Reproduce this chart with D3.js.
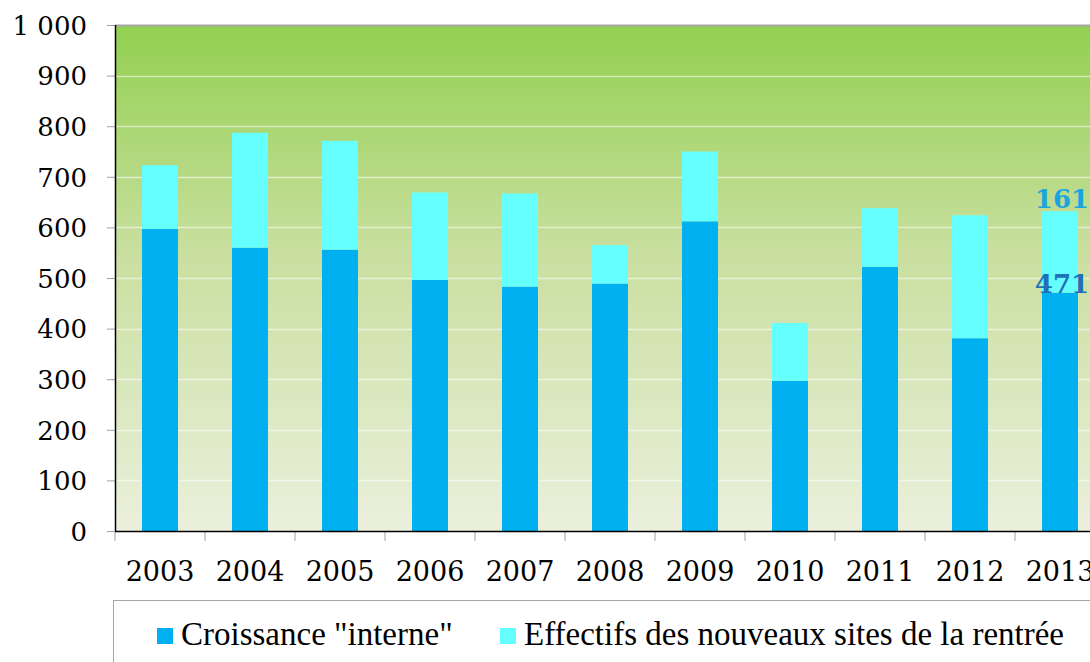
<!DOCTYPE html>
<html>
<head>
<meta charset="utf-8">
<script src="https://cdn.jsdelivr.net/npm/d3@7"></script>
<style>
body { margin: 0; background: #fff; }
svg { display: block; }
</style>
</head>
<body>
<div class="chart"></div>
<script>
var svg_width = 1090;
var svg_height = 662;

// Data
var years = ["2003", "2004", "2005", "2006", "2007", "2008", "2009", "2010", "2011", "2012", "2013"];
var interne = [597, 560, 556, 496, 483, 489, 612, 297, 522, 381, 471];
var nouveaux = [126, 227, 215, 173, 184, 76, 138, 114, 116, 243, 161];
var yTicks = [0, 100, 200, 300, 400, 500, 600, 700, 800, 900, 1000];
var seriesNames = ["Croissance \"interne\"", "Effectifs des nouveaux sites de la rentrée"];
var colors = ["#00b0f0", "#66ffff"];

var margin = { top: 25, left: 115, bottom: 131 };
var plotRight = 1105;
var plotBottom = svg_height - margin.bottom;

var svg = d3.select(".chart")
  .append("svg")
  .attr("width", svg_width)
  .attr("height", svg_height);

// Background gradient
var defs = svg.append("defs");
var grad = defs.append("linearGradient")
  .attr("id", "bg").attr("x1", 0).attr("y1", 0).attr("x2", 0).attr("y2", 1);
grad.append("stop").attr("offset", "0%").attr("stop-color", "#92d050");
grad.append("stop").attr("offset", "45%").attr("stop-color", "#c9df9f");
grad.append("stop").attr("offset", "100%").attr("stop-color", "#ebf0dc");

var xScale = d3.scaleBand()
  .domain(years)
  .range([margin.left, plotRight])
  .paddingInner(0.6)
  .paddingOuter(0.3);

var yScale = d3.scaleLinear()
  .domain([0, 1000])
  .range([plotBottom, margin.top]);

svg.append("rect")
  .attr("x", margin.left)
  .attr("y", margin.top)
  .attr("width", plotRight - margin.left)
  .attr("height", plotBottom - margin.top)
  .attr("fill", "url(#bg)");

// Gridlines
svg.append("g")
  .selectAll("line")
  .data(yTicks.slice(1, -1))
  .enter()
  .append("line")
  .attr("x1", margin.left)
  .attr("x2", plotRight)
  .attr("y1", d => Math.round(yScale(d)) + 0.5)
  .attr("y2", d => Math.round(yScale(d)) + 0.5)
  .attr("stroke", "#ffffff")
  .attr("stroke-opacity", 0.55)
  .attr("stroke-width", 1.5);

// top border
svg.append("line")
  .attr("x1", margin.left).attr("x2", plotRight)
  .attr("y1", margin.top + 0.5).attr("y2", margin.top + 0.5)
  .attr("stroke", "#a6a6a6").attr("stroke-width", 2);

// Stacked bars
var stackData = years.map(function(y, i) {
  return { year: y, interne: interne[i], nouveaux: nouveaux[i] };
});
var stack = d3.stack().keys(["interne", "nouveaux"])(stackData);

svg.append("g")
  .selectAll("g")
  .data(stack)
  .enter()
  .append("g")
  .attr("fill", (d, i) => colors[i])
  .selectAll("rect")
  .data(d => d)
  .enter()
  .append("rect")
  .attr("x", d => xScale(d.data.year))
  .attr("width", xScale.bandwidth())
  .attr("y", d => yScale(d[1]))
  .attr("height", d => yScale(d[0]) - yScale(d[1]));

// Axes
var left_axis = d3.axisLeft(yScale)
  .tickValues(yTicks)
  .tickSize(8)
  .tickPadding(20)
  .tickFormat(d => d3.format(",")(d).replace(",", " "));

var yAxis = svg.append("g")
  .attr("transform", `translate(${margin.left}, 0)`)
  .call(left_axis);
yAxis.select(".domain").remove();
yAxis.selectAll(".tick line").attr("stroke", "#a0a0a0");
yAxis.selectAll("text")
  .attr("font-family", "DejaVu Serif")
  .attr("font-size", "26px")
  .attr("dy", "0.36em")
  .attr("fill", "#000");

svg.append("line")
  .attr("x1", margin.left + 0.5).attr("x2", margin.left + 0.5)
  .attr("y1", margin.top).attr("y2", plotBottom)
  .attr("stroke", "#000").attr("stroke-width", 1.5);

// X axis ticks at band boundaries
var step = xScale.step();
svg.append("g")
  .selectAll("line")
  .data(years)
  .enter()
  .append("line")
  .attr("x1", d => xScale(d) - step * 0.3)
  .attr("x2", d => xScale(d) - step * 0.3)
  .attr("y1", plotBottom)
  .attr("y2", plotBottom + 10)
  .attr("stroke", "#a0a0a0");

svg.append("line")
  .attr("x1", margin.left).attr("x2", plotRight)
  .attr("y1", plotBottom + 0.5).attr("y2", plotBottom + 0.5)
  .attr("stroke", "#000").attr("stroke-width", 1.5);

svg.append("g")
  .selectAll("text")
  .data(years)
  .enter()
  .append("text")
  .attr("x", d => xScale(d) + xScale.bandwidth() / 2)
  .attr("y", plotBottom + 50)
  .attr("text-anchor", "middle")
  .attr("font-family", "DejaVu Serif")
  .attr("font-size", "27px")
  .attr("fill", "#000")
  .text(d => d);

// Labels on last bar
var last = years.length - 1;
var lx = xScale(years[last]) + xScale.bandwidth() / 2 + 2;
svg.append("text")
  .attr("x", lx)
  .attr("y", yScale(interne[last] + nouveaux[last]) - 3)
  .attr("text-anchor", "middle")
  .attr("font-family", "DejaVu Serif")
  .attr("font-weight", "bold")
  .attr("font-size", "26px")
  .attr("fill", "#1ba5df")
  .text(nouveaux[last]);
svg.append("text")
  .attr("x", lx)
  .attr("y", yScale(interne[last]))
  .attr("text-anchor", "middle")
  .attr("font-family", "DejaVu Serif")
  .attr("font-weight", "bold")
  .attr("font-size", "26px")
  .attr("fill", "#1f70b8")
  .text(interne[last]);

// Legend
svg.append("rect")
  .attr("x", 113.5).attr("y", 600.5)
  .attr("width", 1000).attr("height", 100)
  .attr("fill", "#fff")
  .attr("stroke", "#a6a6a6");

var legendX = [157, 500];
var legend = svg.append("g")
  .selectAll("g")
  .data(seriesNames)
  .enter()
  .append("g")
  .attr("transform", (d, i) => `translate(${legendX[i]}, 628)`);
legend.append("rect")
  .attr("width", 16).attr("height", 16)
  .attr("fill", (d, i) => colors[i]);
legend.append("text")
  .attr("x", 24)
  .attr("y", 17)
  .attr("font-family", "Liberation Serif")
  .attr("font-size", "33px")
  .attr("fill", "#000")
  .text(d => d);
</script>
</body>
</html>
